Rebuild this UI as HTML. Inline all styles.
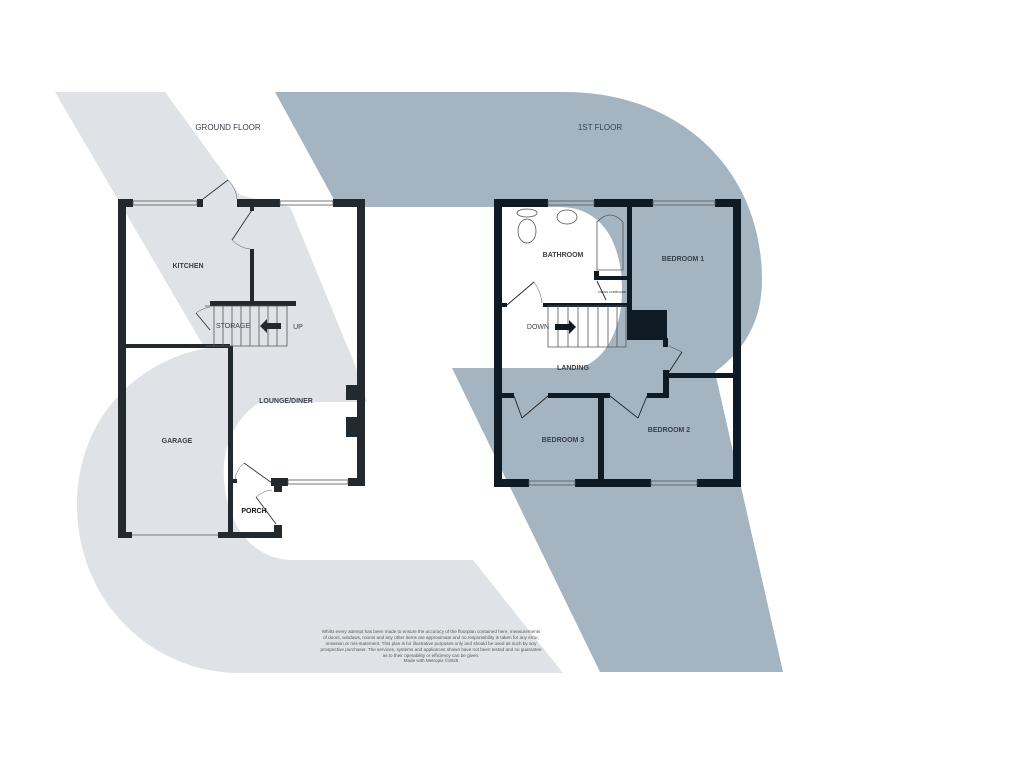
<!DOCTYPE html>
<html><head><meta charset="utf-8"><style>
html,body{margin:0;padding:0;background:#fff;}
svg{display:block;font-family:"Liberation Sans",sans-serif;}
.l{font-size:7px;font-weight:bold;fill:#3a4048;text-anchor:middle;}
.t{font-size:8px;fill:#3a4048;text-anchor:middle;}
.d{font-size:4.6px;fill:#555;text-anchor:middle;}
</style></head><body>
<svg width="1024" height="768" viewBox="0 0 1024 768">
<!-- light grey watermark -->
<g fill="#dfe3e8">
<polygon points="55,92 165,92 240,195 290,207 357,370 367,402 240,402 200,340"/>
<polygon points="233,207 290,207 357,370 367,402 233,402"/>
<path d="M240,345 L300,345 L330,402 L260,402 C232,420 222,450 224,480 C228,530 255,558 290,560 L473,560 L563,673 L240,673 C150,673 77,600 77,505 C77,410 150,345 240,345 Z"/>
</g>
<!-- blue watermark R -->
<g fill="#a4b5c1">
<path d="M275,92 L565,92 C680,92 762,170 762,280 C762,320 745,350 715,372 L783,672 L600,672 L452,368 L580,368 C605,360 622,330 622,290 C622,240 600,207 560,207 L338,207 Z"/>
</g>
<text class="t" x="228" y="130">GROUND FLOOR</text>
<text class="t" x="600" y="130">1ST FLOOR</text>

<!-- GROUND FLOOR -->
<g fill="#22292f">
<rect x="118" y="199" width="8" height="339"/>
<rect x="118" y="199" width="15" height="8"/>
<rect x="197" y="199" width="6" height="8"/>
<rect x="237" y="199" width="43" height="8"/>
<rect x="333" y="199" width="32" height="8"/>
<rect x="357" y="199" width="8" height="287"/>
<rect x="346" y="385" width="11" height="15"/>
<rect x="346" y="417" width="11" height="20"/>
<rect x="271" y="478" width="17" height="8"/>
<rect x="348" y="478" width="17" height="8"/>
<rect x="274" y="478" width="8" height="14"/>
<rect x="250" y="206" width="4" height="5"/>
<rect x="250" y="249" width="4" height="53"/>
<rect x="210" y="301" width="86" height="5"/>
<rect x="126" y="344" width="104" height="4"/>
<rect x="228" y="346" width="5" height="192"/>
<rect x="118" y="532" width="14" height="6"/>
<rect x="218" y="532" width="63" height="6"/>
<rect x="274" y="525" width="8" height="13"/>
<rect x="233" y="479" width="4" height="4"/>
</g>
<g fill="none" stroke="#555" stroke-width="0.8">
<rect x="133" y="201" width="64" height="4"/>
<rect x="280" y="201" width="53" height="4"/>
<rect x="288" y="480" width="60" height="4"/>
<line x1="132" y1="535" x2="218" y2="535"/>
<path d="M205,306 H287 V346 H205"/>
<path d="M214,306V346 M223,306V346 M232,306V346 M241,306V346 M250,306V346 M259,306V346 M268,306V346 M277,306V346"/>
</g>
<g fill="none" stroke="#333" stroke-width="0.9">
<line x1="203" y1="199" x2="228" y2="180"/>
<path d="M228,180 Q236,188 237,199" stroke-width="0.4"/>
<line x1="252" y1="210" x2="232" y2="240"/>
<path d="M232,240 Q240,248 250,249" stroke-width="0.4"/>
<line x1="244" y1="463" x2="272" y2="483"/>
<path d="M244,463 Q236,470 235,480" stroke-width="0.4"/>
<line x1="256" y1="497" x2="276" y2="524"/>
<path d="M256,497 Q265,490 272,490" stroke-width="0.4"/>
<line x1="196" y1="313" x2="210" y2="330"/>
<path d="M196,313 Q203,308 210,307" stroke-width="0.4"/>
</g>
<polygon points="260,326 267,319 267,323 281,323 281,329 267,329 267,333" fill="#22292f"/>
<text class="l" x="188" y="268">KITCHEN</text>
<text class="l" x="233" y="328" style="font-weight:normal">STORAGE</text>
<text class="l" x="298" y="329" style="font-weight:normal">UP</text>
<text class="l" x="286" y="403">LOUNGE/DINER</text>
<text class="l" x="177" y="443">GARAGE</text>
<text class="l" x="254" y="513" style="fill:#111">PORCH</text>

<!-- 1ST FLOOR -->
<g fill="#0e1a24">
<rect x="494" y="199" width="8" height="288"/>
<rect x="494" y="199" width="54" height="8"/>
<rect x="594" y="199" width="59" height="8"/>
<rect x="715" y="199" width="26" height="8"/>
<rect x="733" y="199" width="8" height="288"/>
<rect x="494" y="479" width="35" height="8"/>
<rect x="575" y="479" width="76" height="8"/>
<rect x="697" y="479" width="44" height="8"/>
<rect x="627" y="207" width="5" height="133"/>
<rect x="594" y="276" width="33" height="4"/>
<rect x="594" y="271" width="5" height="9"/>
<rect x="543" y="303" width="84" height="4"/>
<rect x="502" y="303" width="5" height="4"/>
<rect x="627" y="310" width="40" height="30"/>
<rect x="663" y="338" width="5" height="9"/>
<rect x="663" y="370" width="6" height="23"/>
<rect x="668" y="373" width="73" height="5"/>
<rect x="494" y="393" width="20" height="5"/>
<rect x="548" y="393" width="62" height="5"/>
<rect x="647" y="393" width="22" height="5"/>
<rect x="598" y="393" width="6" height="94"/>
</g>
<g fill="none" stroke="#555" stroke-width="0.8">
<rect x="548" y="201" width="46" height="4"/>
<rect x="653" y="201" width="62" height="4"/>
<rect x="529" y="481" width="46" height="4"/>
<rect x="651" y="481" width="46" height="4"/>
<path d="M597,270 V222 Q610,208 623,222 V270 Z"/>
<ellipse cx="527" cy="231" rx="9" ry="12"/>
<ellipse cx="527" cy="213" rx="10" ry="4"/>
<ellipse cx="567" cy="217" rx="10" ry="7"/>
<path d="M548,306 H626 V347 H548 Z"/>
<path d="M558,306V347 M568,306V347 M578,306V347 M588,306V347 M598,306V347 M608,306V347 M617,306V347"/>
</g>
<g fill="none" stroke="#222" stroke-width="0.9">
<line x1="507" y1="305" x2="534" y2="282"/>
<path d="M534,282 Q541,292 542,303" stroke-width="0.4"/>
<line x1="597" y1="281" x2="606" y2="300"/>
<line x1="514" y1="396" x2="522" y2="418"/>
<line x1="548" y1="396" x2="522" y2="418"/>
<line x1="610" y1="396" x2="638" y2="418"/>
<line x1="647" y1="396" x2="638" y2="418"/>
<line x1="669" y1="372" x2="682" y2="352"/>
<path d="M669,346 L682,352" stroke-width="0.4"/>
</g>
<polygon points="576,327 569,320 569,324 555,324 555,330 569,330 569,334" fill="#0e1a24"/>
<text class="l" x="563" y="257">BATHROOM</text>
<text class="l" x="683" y="261">BEDROOM 1</text>
<text x="612" y="293" style="font-size:3px;fill:#222;text-anchor:middle">AIRING CUPBOARD</text>
<text class="l" x="538" y="329" style="font-weight:normal">DOWN</text>
<text class="l" x="573" y="370">LANDING</text>
<text class="l" x="563" y="442">BEDROOM 3</text>
<text class="l" x="669" y="432">BEDROOM 2</text>

<text class="d" x="431" y="633">Whilst every attempt has been made to ensure the accuracy of the floorplan contained here, measurements</text>
<text class="d" x="431" y="639">of doors, windows, rooms and any other items are approximate and no responsibility is taken for any error,</text>
<text class="d" x="431" y="645">omission or mis-statement. This plan is for illustrative purposes only and should be used as such by any</text>
<text class="d" x="431" y="651">prospective purchaser. The services, systems and appliances shown have not been tested and no guarantee</text>
<text class="d" x="431" y="657">as to their operability or efficiency can be given.</text>
<text class="d" x="431" y="662">Made with Metropix ©2025</text>
</svg>
</body></html>
